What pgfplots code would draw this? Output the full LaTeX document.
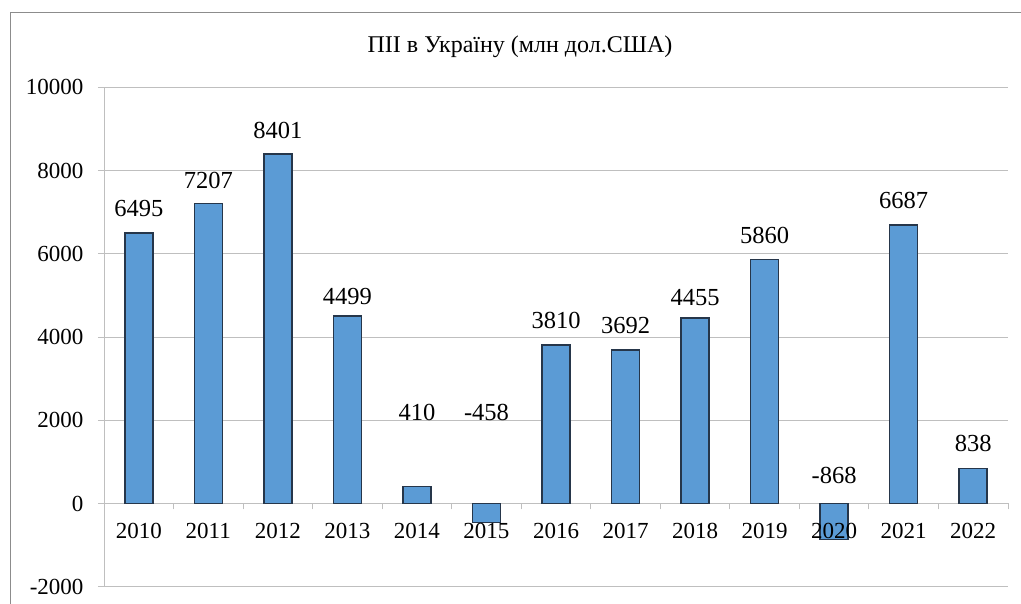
\documentclass[border=0pt]{standalone}
\usepackage{fontspec}
\setmainfont{Liberation Serif}
\usepackage{pgfplots}
\usepackage{pgfplotstable}
\pgfplotsset{compat=1.18}
\definecolor{barblue}{HTML}{5B9BD5}
\definecolor{baredge}{HTML}{26364A}
\definecolor{gridgray}{HTML}{BFBFBF}
\definecolor{framegray}{HTML}{8C8C8C}

\pgfplotsset{
  common/.style={
    at={(104pt,17.3pt)}, anchor=south west,
    width=904pt, height=499.3pt, scale only axis,
    xmin=-0.5, xmax=12.5, ymin=-2000, ymax=10000,
    axis x line=middle, axis y line=left,
    /pgf/number format/assume math mode=true,
    /pgf/number format/1000 sep={},
    tick label style={font=\fontsize{23}{27}\selectfont, text=black},
    xticklabel style={yshift=-10pt},
    yticklabel style={xshift=-11pt},
    scaled y ticks=false,
    clip=false,
  }
}

\pgfplotstableread{
x val
0 6495
1 7207
2 8401
3 4499
4 410
5 -458
6 3810
7 3692
8 4455
9 5860
10 -868
11 6687
12 838
}\bars

\pgfplotstableread{
x ly lab
0 7087 6495
1 7759 7207
2 8959 8401
3 4975 4499
4 2191 410
5 2191 -458
6 4399 3810
7 4279 3692
8 4951 4455
9 6439 5860
10 679 -868
11 7279 6687
12 1447 838
}\labs

\begin{document}
\begin{tikzpicture}
\useasboundingbox (0,0) rectangle (1021pt,604pt);
\draw[framegray, line width=1pt] (10pt,0) -- (10pt,591pt) -- (1021pt,591pt);
\node[font=\fontsize{24}{28}\selectfont, inner sep=0pt] at (520pt,557pt) {ПІІ в Україну (млн дол.США)};
\begin{axis}[
  common,
  axis line style={-, draw=gridgray, line width=1pt},
  hide obscured y ticks=false,
  ytick={-2000,0,2000,4000,6000,8000,10000},
  ymajorgrids, grid style={gridgray, line width=1pt},
  xtick={0,1,2,3,4,5,6,7,8,9,10,11,12},
  xticklabels={},
  minor xtick={-0.5,0.5,1.5,2.5,3.5,4.5,5.5,6.5,7.5,8.5,9.5,10.5,11.5,12.5},
  major x tick style={draw=none},
  minor x tick style={draw=gridgray, line width=1pt},
  y tick style={draw=gridgray, line width=1pt},
  tick align=outside,
  major tick length=6pt, minor tick length=6pt,
]
\addplot[ybar, bar width=28pt, fill=barblue, draw=baredge, line width=1.6pt] table[x=x, y=val] {\bars};
\addplot[draw=none, mark=none, nodes near coords, point meta=explicit symbolic,
  every node near coord/.style={anchor=center, font=\fontsize{24.5}{28}\selectfont, text=black, inner sep=0pt}]
  table[x=x, y=ly, meta=lab] {\labs};
\end{axis}
\begin{axis}[
  common,
  axis line style={draw=none},
  hide y axis,
  xtick={0,1,2,3,4,5,6,7,8,9,10,11,12},
  xticklabels={2010,2011,2012,2013,2014,2015,2016,2017,2018,2019,2020,2021,2022},
  x tick style={draw=none},
  tick align=outside,
  major tick length=6pt,
]
\end{axis}
\end{tikzpicture}
\end{document}
